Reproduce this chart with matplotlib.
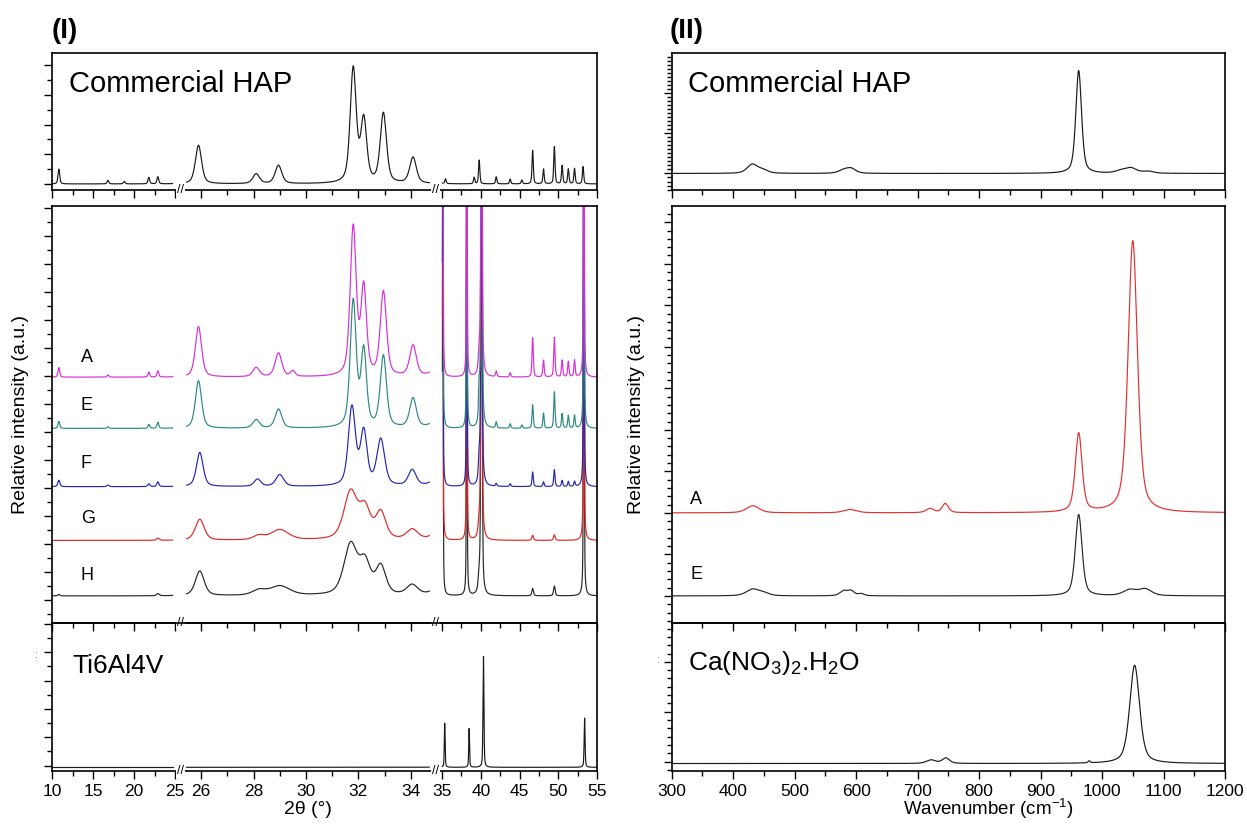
import numpy as np
import matplotlib.pyplot as plt
from matplotlib.ticker import FixedLocator, MultipleLocator

plt.rcParams['font.family'] = 'Liberation Sans'
plt.rcParams['mathtext.fontset'] = 'custom'
plt.rcParams['mathtext.rm'] = 'Liberation Sans'
plt.rcParams['mathtext.it'] = 'Liberation Sans:italic'
plt.rcParams['mathtext.bf'] = 'Liberation Sans:bold'

# ---- (I) XRD : peaks as (2theta, height, fwhm) ----
xrd_segments = [(10, 24.7), (25.45, 34.7), (35.05, 55)]
xrd_ticks = [10, 15, 20, 25, 26, 28, 30, 32, 34, 35, 40, 45, 50, 55]
xrd_minor = [12.5, 17.5, 22.5, 27, 29, 31, 33, 37.5, 42.5, 47.5, 52.5]
xrd_breaks = [25.22, 34.86]

hap_xrd = [(10.8, .5, .25), (16.8, .12, .25), (18.8, .08, .25), (21.8, .22, .25),
           (22.9, .24, .25), (25.9, 1.3, .28), (28.1, .33, .3), (28.95, .62, .3),
           (31.8, 3.85, .27), (32.2, 2.1, .27), (32.95, 2.35, .28), (34.08, .88, .3),
           (35.45, .16, .2), (39.15, .22, .2), (39.8, .8, .2), (42.0, .24, .2),
           (43.8, .16, .2), (45.3, .13, .2), (46.7, 1.12, .2), (48.1, .5, .2),
           (49.5, 1.25, .2), (50.5, .62, .2), (51.3, .5, .2), (52.1, .52, .2),
           (53.2, .58, .2)]

ti_in_samples = [(35.1, 16, .1), (38.2, 16, .1), (40.1, 16, .18), (53.3, 16, .12)]

sample_names = ['A', 'E', 'F', 'G', 'H']
sample_colors = ['#d82ed8', '#2c8a80', '#2626b0', '#e02828', '#262626']
sample_bases = [7.96, 6.13, 4.05, 2.13, 0.15]
sample_label_y = [8.67, 6.93, 4.89, 2.92, 0.88]

xrd_A = [(10.8, .34, .25), (16.8, .08, .25), (21.8, .18, .25), (22.9, .22, .25),
         (25.9, 1.8, .28), (28.1, .33, .3), (28.95, .85, .3), (29.5, .2, .2),
         (31.8, 5.3, .27), (32.2, 3.1, .25), (32.95, 3.0, .28), (34.08, 1.1, .3),
         (39.8, .7, .25), (42.0, .2, .2), (43.8, .15, .2), (46.7, 1.4, .2),
         (48.1, .6, .2), (49.5, 1.42, .2), (50.5, .6, .2), (51.3, .55, .2),
         (52.1, .6, .2)]
xrd_E = [(10.8, .25, .25), (16.8, .06, .25), (21.8, .14, .25), (22.9, .22, .25),
         (25.9, 1.7, .28), (28.1, .3, .3), (28.95, .68, .3), (31.8, 4.5, .27),
         (32.2, 2.7, .25), (32.95, 2.55, .28), (34.08, 1.05, .3), (39.8, 1.3, .2),
         (42.0, .22, .2), (43.8, .16, .2), (45.3, .12, .2), (46.7, .84, .2),
         (48.1, .54, .2), (49.5, 1.3, .2), (50.5, .52, .2), (51.3, .46, .2),
         (52.1, .46, .2)]
xrd_F = [(10.8, .23, .3), (16.8, .06, .3), (21.8, .1, .3), (22.9, .17, .3),
         (25.95, 1.22, .3), (28.15, .26, .3), (29.0, .42, .35), (31.75, 2.8, .32),
         (32.2, 1.9, .3), (32.85, 1.65, .35), (34.05, .57, .35), (39.8, .8, .25),
         (42.0, .1, .2), (43.8, .1, .2), (46.7, .52, .2), (48.1, .17, .2),
         (49.5, .6, .2), (50.5, .22, .2), (51.3, .18, .2), (52.1, .18, .2)]
xrd_G = [(22.9, .08, .4), (25.95, .75, .4), (28.2, .15, .5), (29.0, .37, .8),
         (31.7, 1.7, .6), (32.25, 1.05, .5), (32.85, .95, .45), (34.05, .36, .5),
         (39.8, .45, .3), (46.7, .18, .25), (49.5, .2, .25)]
xrd_H = [(10.8, .05, .3), (22.9, .08, .4), (25.95, .88, .4), (28.2, .18, .6),
         (29.0, .34, .9), (31.7, 1.8, .6), (32.25, 1.1, .5), (32.85, 1.0, .45),
         (34.05, .36, .5), (39.8, .5, .3), (46.7, .26, .25), (49.5, .35, .25)]
sample_xrd = [xrd_A, xrd_E, xrd_F, xrd_G, xrd_H]

ti_xrd = [(35.35, 1.6, .12), (38.5, 1.4, .12), (40.35, 3.92, .14), (53.4, 1.74, .14)]

# ---- (II) Raman : (wavenumber, height, fwhm) ----
raman_range = (300, 1200)
hap_raman = [(431, .22, 20), (448, .08, 20), (580, .08, 20), (592, .11, 18),
             (962, 2.55, 11), (1030, .06, 20), (1047, .13, 22), (1075, .05, 20)]
raman_A = [(432, .17, 25), (590, .08, 25), (720, .1, 15), (745, .22, 12),
           (962, 1.9, 13), (1050, 6.55, 18)]
raman_E = [(432, .16, 25), (450, .06, 20), (580, .12, 15), (592, .11, 12),
           (608, .05, 12), (962, 1.96, 13), (1045, .14, 25), (1070, .16, 25)]
canitrate_raman = [(722, .07, 18), (746, .11, 14), (979, .04, 4), (1053, 1.97, 19)]


def profile(x, peaks, base):
    y = np.full(x.shape, float(base))
    for c, h, w in peaks:
        d = (x - c) / (w / 2)
        y += h * (0.5 / (1 + d ** 2) + 0.5 * np.exp(-np.log(2) * d ** 2))
    return y


# broken 2theta axis as a piecewise-linear scale
KX = [10, 25, 25.44, 34.75, 35, 55]
KP = [52.3, 175, 186.4, 430.6, 442, 597]


def fwd(v):
    return np.interp(v, KX, KP)


def inv(v):
    return np.interp(v, KP, KX)


def plot_xrd(ax, peaks, base, color):
    for a, b in xrd_segments:
        x = np.linspace(a, b, 900)
        ax.plot(x, profile(x, peaks, base), color=color, lw=0.85)


def style(ax, ymaj, ymin, ylim, labels=False):
    ax.set_facecolor('none')
    ax.set_ylim(*ylim)
    ax.yaxis.set_major_locator(MultipleLocator(ymaj))
    ax.yaxis.set_minor_locator(MultipleLocator(ymin))
    ax.tick_params(which='major', direction='out', length=6, width=1,
                   labelsize=12.5, top=False, right=False, labelleft=False,
                   labelbottom=labels, pad=3)
    ax.tick_params(which='minor', direction='out', length=3.5, width=1,
                   top=False, right=False)
    for s in ax.spines.values():
        s.set_linewidth(1.2)


W, H = 1247, 827
fig = plt.figure(figsize=(W / 100, H / 100), dpi=100)
rows = [(53.3, 190), (206, 622.5), (622.5, 771)]
cols = [(52.3, 597), (671.7, 1225)]
axes = [[fig.add_axes([c0 / W, 1 - r1 / H, (c1 - c0) / W, (r1 - r0) / H])
         for c0, c1 in cols] for r0, r1 in rows]

# ---------------- (I) ----------------
left = [axes[0][0], axes[1][0], axes[2][0]]
for ax in left:
    ax.set_xscale('function', functions=(fwd, inv))
    ax.set_xlim(10, 55)
    ax.xaxis.set_major_locator(FixedLocator(xrd_ticks))
    ax.xaxis.set_minor_locator(FixedLocator(xrd_minor))
    ax.set_xticklabels([str(t) for t in xrd_ticks])
    for xb in xrd_breaks:
        ax.text(xb, 0, '//', transform=ax.get_xaxis_transform(), ha='center',
                va='center', fontsize=9, zorder=5,
                bbox=dict(fc='white', ec='none', pad=0.5))

ax = left[0]
plot_xrd(ax, hap_xrd, 0, '#1a1a1a')
style(ax, 1, 0.5, (-0.205, 4.40))
ax.text(0.031, 0.775, 'Commercial HAP', transform=ax.transAxes, fontsize=21,
        va='center', ha='left')

ax = left[1]
for name, col, base, peaks in reversed(list(zip(sample_names, sample_colors,
                                                 sample_bases, sample_xrd))):
    plot_xrd(ax, peaks + ti_in_samples, base, col)
for name, ly in zip(sample_names, sample_label_y):
    ax.text(13.5, ly, name, fontsize=13, va='center', ha='left')
style(ax, 1, 0.5, (-0.8, 14.07))
ax.set_ylabel('Relative intensity (a.u.)', fontsize=14, labelpad=10)

ax = left[2]
plot_xrd(ax, ti_xrd, -0.06, '#1a1a1a')
style(ax, 1, 0.5, (-0.19, 5.05), labels=True)
ax.text(0.037, 0.71, 'Ti6Al4V', transform=ax.transAxes, fontsize=19,
        va='center', ha='left')

# ---------------- (II) ----------------
right = [axes[0][1], axes[1][1], axes[2][1]]
wn = np.linspace(raman_range[0], raman_range[1], 1800)
for ax in right:
    ax.set_xlim(*raman_range)
    ax.xaxis.set_major_locator(MultipleLocator(100))
    ax.xaxis.set_minor_locator(MultipleLocator(50))

ax = right[0]
ax.plot(wn, profile(wn, hap_raman, 0), color='#1a1a1a', lw=0.85)
style(ax, 1, 0.1, (-0.41, 2.98))
ax.text(0.03, 0.776, 'Commercial HAP', transform=ax.transAxes, fontsize=21,
        va='center', ha='left')

ax = right[1]
ax.plot(wn, profile(wn, raman_A, 2.0), color='#e03030', lw=0.85)
ax.plot(wn, profile(wn, raman_E, 0.0), color='#262626', lw=0.85)
ax.text(330, 2.32, 'A', fontsize=13, va='center', ha='left')
ax.text(330, 0.52, 'E', fontsize=13, va='center', ha='left')
style(ax, 1, 0.2, (-0.64, 9.39))
ax.set_ylabel('Relative intensity (a.u.)', fontsize=14, labelpad=12)

ax = right[2]
ax.plot(wn, profile(wn, canitrate_raman, -0.04), color='#1a1a1a', lw=0.85)
style(ax, 1, 1 / 6, (-0.19, 2.79), labels=True)
ax.text(0.03, 0.73, r'Ca(NO$_3$)$_2$.H$_2$O', transform=ax.transAxes,
        fontsize=19, va='center', ha='left')

# panel tags, axis titles
fig.text(52 / W, 1 - 31 / H, '(I)', fontsize=20, weight='bold', va='center')
fig.text(670 / W, 1 - 31 / H, '(II)', fontsize=20, weight='bold', va='center')
fig.text(308 / W, 1 - 809 / H, '2θ (°)', fontsize=14, ha='center', va='center')
fig.text(988 / W, 1 - 809 / H, 'Wavenumber (cm$^{-1}$)', fontsize=13.5,
         ha='center', va='center')
fig.text(36 / W, 1 - 655 / H, ':', fontsize=8, color='#777777', ha='center', va='center')
fig.text(658 / W, 1 - 660 / H, ':', fontsize=8, color='#777777', ha='center', va='center')

fig.savefig('out.png', dpi=100)
